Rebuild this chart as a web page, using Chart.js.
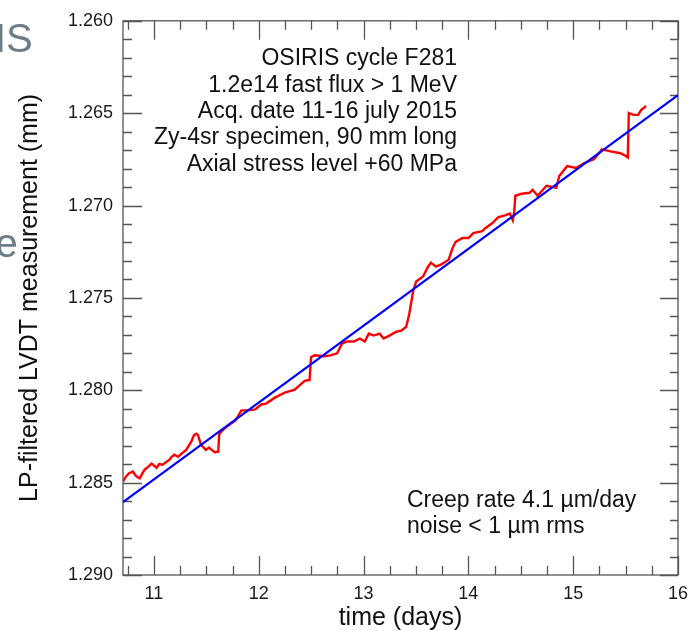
<!DOCTYPE html>
<html>
<head>
<meta charset="utf-8">
<script src="https://cdn.jsdelivr.net/npm/chart.js@4.4.0/dist/chart.umd.min.js"></script>
<style>
  html, body { margin: 0; padding: 0; background: #fff; }
  #wrap { width: 696px; height: 631px; position: relative; }
</style>
</head>
<body>
<div id="wrap"><canvas id="graph-creep"></canvas></div>
<script>
// LVDT signal (red)
const timeDays = [10.705, 10.730, 10.760, 10.799, 10.830, 10.865, 10.890, 10.912, 10.945, 10.978,
  11.025, 11.050, 11.082, 11.115, 11.148, 11.170, 11.195, 11.230, 11.261,
  11.308, 11.355, 11.383, 11.405, 11.421, 11.449, 11.496, 11.525, 11.552, 11.580, 11.600, 11.614, 11.623,
  11.665, 11.713, 11.778, 11.835, 11.901, 11.967, 12.023, 12.070, 12.155, 12.249,
  12.343, 12.438, 12.485, 12.489, 12.499, 12.532, 12.626, 12.682, 12.748, 12.795,
  12.842, 12.908, 12.965, 13.012, 13.050, 13.097, 13.153, 13.191, 13.247, 13.313,
  13.360, 13.407, 13.436, 13.473, 13.502, 13.568, 13.615, 13.643, 13.690, 13.737,
  13.812, 13.850, 13.878, 13.944, 14.001, 14.048, 14.133, 14.161, 14.227, 14.283,
  14.349, 14.396, 14.424, 14.438, 14.448, 14.509, 14.585, 14.613, 14.660, 14.745,
  14.839, 14.867, 14.942, 15.027, 15.102, 15.197, 15.262, 15.272, 15.357, 15.451,
  15.507, 15.521, 15.531, 15.573, 15.620, 15.648, 15.695];
const lvdtMm = [1.28493, 1.28470, 1.28450, 1.28440, 1.28465, 1.28477, 1.28450, 1.28429, 1.28415, 1.28397,
  1.28419, 1.28400, 1.28403, 1.28390, 1.28376, 1.28360, 1.28349, 1.28360, 1.28344,
  1.28323, 1.28280, 1.28243, 1.28235, 1.28243, 1.28296, 1.28323, 1.28310, 1.28323, 1.28335, 1.28333, 1.28333, 1.28237,
  1.28211, 1.28189, 1.28163, 1.28109, 1.28109, 1.28104, 1.28077, 1.28072, 1.28040, 1.28013,
  1.27997, 1.27949, 1.27944, 1.27944, 1.27821, 1.27811, 1.27816, 1.27811, 1.27800, 1.27747,
  1.27736, 1.27736, 1.27720, 1.27736, 1.27693, 1.27704, 1.27693, 1.27720, 1.27704, 1.27683,
  1.27677, 1.27656, 1.27587, 1.27464, 1.27411, 1.27384, 1.27331, 1.27309, 1.27331, 1.27320,
  1.27293, 1.27229, 1.27197, 1.27176, 1.27176, 1.27149, 1.27139, 1.27123, 1.27096, 1.27064,
  1.27053, 1.27043, 1.27080, 1.27032, 1.26947, 1.26936, 1.26931, 1.26915, 1.26947, 1.26893,
  1.26904, 1.26840, 1.26787, 1.26797, 1.26771, 1.26749, 1.26707, 1.26696, 1.26707, 1.26717,
  1.26733, 1.26739, 1.26499, 1.26509, 1.26509, 1.26483, 1.26461];

// linear fit (blue)
const fitTime = [10.705, 16];
const fitMm = [1.28605, 1.26403];

const xTicks = [11, 12, 13, 14, 15, 16];
const yTicks = [1.260, 1.265, 1.270, 1.275, 1.280, 1.285, 1.290];

const infoLines = [
  "OSIRIS cycle F281",
  "1.2e14 fast flux > 1 MeV",
  "Acq. date 11-16 july 2015",
  "Zy-4sr specimen, 90 mm long",
  "Axial stress level +60 MPa"
];
const noteLines = ["Creep rate 4.1 \u00b5m/day", "noise < 1 \u00b5m rms"];

const FONT = "'Liberation Sans', Arial, sans-serif";

// frame + inside ticks on all four sides
const framePlugin = {
  id: "frame",
  beforeDatasetsDraw(chart) {
    const { ctx, chartArea: a } = chart;
    const xs = chart.scales.x, ys = chart.scales.y;
    ctx.save();
    ctx.strokeStyle = "#555";
    ctx.lineWidth = 1.3;
    ctx.strokeRect(a.left, a.top, a.right - a.left, a.bottom - a.top);
    ctx.beginPath();
    for (let v = 10.75; v <= 16.001; v += 0.25) {
      const px = Math.round(xs.getPixelForValue(v)) + 0.5;
      const major = Math.abs(v - Math.round(v)) < 1e-6;
      const len = major ? 19 : 9;
      ctx.moveTo(px, a.bottom); ctx.lineTo(px, a.bottom - len);
      ctx.moveTo(px, a.top); ctx.lineTo(px, a.top + len);
    }
    for (let i = 0; i <= 30; i++) {
      const v = 1.260 + i * 0.001;
      const py = Math.round(ys.getPixelForValue(v)) + 0.5;
      const major = i % 5 === 0;
      ctx.moveTo(a.left, py); ctx.lineTo(a.left + (major ? 19 : 9), py);
      ctx.moveTo(a.right, py); ctx.lineTo(a.right - (major ? 18 : 8), py);
    }
    ctx.stroke();
    ctx.restore();
  },
  afterDraw(chart) {
    const { ctx, chartArea: a } = chart;
    ctx.save();
    ctx.fillStyle = "#111";
    ctx.font = "23px " + FONT;
    ctx.textAlign = "right";
    infoLines.forEach((t, i) => ctx.fillText(t, a.left + 334, a.top + 44.5 + i * 26.3));
    ctx.textAlign = "left";
    noteLines.forEach((t, i) => ctx.fillText(t, a.left + 284, a.top + 486.5 + i * 26));
    // pieces of the slide behind the chart
    ctx.fillStyle = "#6d7d86";
    ctx.font = "40px " + FONT;
    ctx.fillText("IS", -5, 51.5);
    ctx.fillText("e", -4.6, 256.5);
    ctx.restore();
  }
};

const canvas = document.getElementById("graph-creep");
new Chart(canvas, {
  type: "line",
  data: {
    datasets: [
      {
        label: "fit",
        data: fitTime.map((t, i) => ({ x: t, y: fitMm[i] })),
        borderColor: "#0000ff",
        borderWidth: 2.2,
        pointRadius: 0,
        tension: 0
      },
      {
        label: "LVDT",
        data: timeDays.map((t, i) => ({ x: t, y: lvdtMm[i] })),
        borderColor: "#ff0000",
        borderWidth: 2.4,
        pointRadius: 0,
        tension: 0
      }
    ]
  },
  options: {
    responsive: true,
    maintainAspectRatio: false,
    animation: false,
    devicePixelRatio: 1,
    layout: { padding: { top: 12, right: 12, left: 0, bottom: 0 } },
    plugins: { legend: { display: false }, tooltip: { enabled: false } },
    scales: {
      x: {
        type: "linear",
        min: 10.705,
        max: 16,
        grid: { display: false, drawTicks: false },
        border: { display: false },
        afterBuildTicks: s => { s.ticks = xTicks.map(v => ({ value: v })); },
        afterFit: s => { s.height = 56; },
        ticks: {
          color: "#1a1a1a",
          font: { family: FONT, size: 18 },
          padding: 8,
          maxRotation: 0,
          callback: v => String(v)
        },
        title: {
          display: true,
          text: "time (days)",
          color: "#111",
          font: { family: FONT, size: 25, lineHeight: 1 },
          padding: { top: 0, bottom: 0 }
        }
      },
      y: {
        type: "linear",
        min: 1.260,
        max: 1.290,
        reverse: true,
        grid: { display: false, drawTicks: false },
        border: { display: false },
        afterBuildTicks: s => { s.ticks = yTicks.map(v => ({ value: v })); },
        afterFit: s => { s.width = 123; },
        ticks: {
          color: "#1a1a1a",
          font: { family: FONT, size: 18 },
          padding: 10,
          callback: v => v.toFixed(3)
        },
        title: {
          display: true,
          text: "LP-filtered LVDT measurement (mm)",
          color: "#111",
          font: { family: FONT, size: 25, lineHeight: 1 },
          padding: { top: 18, bottom: 0 }
        }
      }
    }
  },
  plugins: [framePlugin]
});
</script>
</body>
</html>
